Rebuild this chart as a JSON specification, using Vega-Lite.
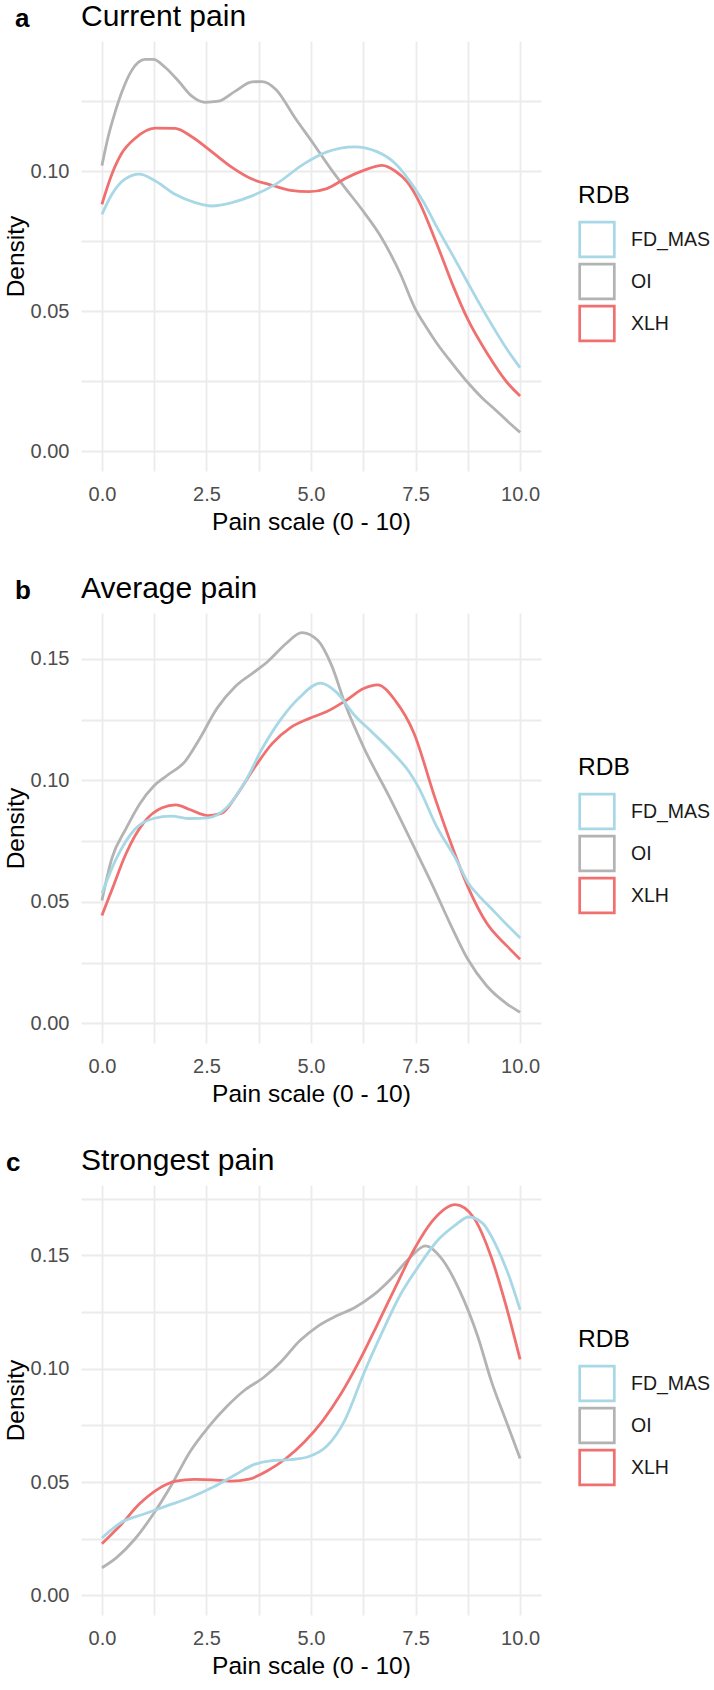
{
"$schema": "https://vega.github.io/schema/vega-lite/v6.json",
"background": "white",
"padding": {"left": 3, "top": 2, "right": 0, "bottom": 0},
"config": {
  "view": {"stroke": null},
  "font": "Liberation Sans",
  "axis": {"domain": false, "ticks": false, "gridColor": "#EBEBEB", "gridWidth": 1.8, "labelColor": "#4D4D4D", "labelFontSize": 20, "titleFontSize": 24.5, "titleFontWeight": "normal", "titleColor": "#000000", "labelOverlap": false, "labelFlush": false, "labelBound": false},
  "axisX": {"labelPadding": 13, "titlePadding": 6},
  "axisY": {"labelPadding": 12, "titlePadding": 2},
  "title": {"fontSize": 30, "fontWeight": "normal", "anchor": "start", "frame": "group", "offset": 9, "color": "#000000"},
  "legend": {"titleFontSize": 24.5, "titleFontWeight": "normal", "titleColor": "#000000", "labelFontSize": 19.5, "labelColor": "#1A1A1A", "symbolType": "square", "symbolSize": 1200, "symbolStrokeWidth": 2.7, "symbolFillColor": "transparent", "labelOffset": 15, "rowPadding": -12, "titlePadding": 12}
},
"resolve": {"scale": {"color": "independent"}, "legend": {"color": "independent"}},
"spacing": 40,
"data": {"values": [
{"p":"a","RDB":"OI","x":0,"y":0.102},{"p":"a","RDB":"OI","x":0.15,"y":0.1123},{"p":"a","RDB":"OI","x":0.31,"y":0.1208},{"p":"a","RDB":"OI","x":0.47,"y":0.128},{"p":"a","RDB":"OI","x":0.71,"y":0.1359},{"p":"a","RDB":"OI","x":1.03,"y":0.1399},{"p":"a","RDB":"OI","x":1.23,"y":0.1399},{"p":"a","RDB":"OI","x":1.51,"y":0.1371},{"p":"a","RDB":"OI","x":1.83,"y":0.1322},{"p":"a","RDB":"OI","x":2.15,"y":0.1268},{"p":"a","RDB":"OI","x":2.47,"y":0.1246},{"p":"a","RDB":"OI","x":2.79,"y":0.125},{"p":"a","RDB":"OI","x":3.19,"y":0.1286},{"p":"a","RDB":"OI","x":3.59,"y":0.1319},{"p":"a","RDB":"OI","x":3.83,"y":0.132},{"p":"a","RDB":"OI","x":4.16,"y":0.1292},{"p":"a","RDB":"OI","x":4.62,"y":0.119},{"p":"a","RDB":"OI","x":5.05,"y":0.11},{"p":"a","RDB":"OI","x":5.49,"y":0.1005},{"p":"a","RDB":"OI","x":5.82,"y":0.094},{"p":"a","RDB":"OI","x":6.26,"y":0.0855},{"p":"a","RDB":"OI","x":6.64,"y":0.0774},{"p":"a","RDB":"OI","x":7.13,"y":0.0636},{"p":"a","RDB":"OI","x":7.5,"y":0.0507},{"p":"a","RDB":"OI","x":7.75,"y":0.0445},{"p":"a","RDB":"OI","x":8.0,"y":0.0388},{"p":"a","RDB":"OI","x":8.4,"y":0.031},{"p":"a","RDB":"OI","x":8.75,"y":0.0246},{"p":"a","RDB":"OI","x":9.1,"y":0.019},{"p":"a","RDB":"OI","x":9.4,"y":0.0150},{"p":"a","RDB":"OI","x":9.7,"y":0.0108},{"p":"a","RDB":"OI","x":10,"y":0.0068},
{"p":"a","RDB":"XLH","x":0,"y":0.0882},{"p":"a","RDB":"XLH","x":0.24,"y":0.099},{"p":"a","RDB":"XLH","x":0.47,"y":0.1063},{"p":"a","RDB":"XLH","x":0.79,"y":0.1117},{"p":"a","RDB":"XLH","x":1.27,"y":0.1154},{"p":"a","RDB":"XLH","x":1.75,"y":0.1153},{"p":"a","RDB":"XLH","x":2.15,"y":0.1123},{"p":"a","RDB":"XLH","x":2.63,"y":0.1069},{"p":"a","RDB":"XLH","x":3.11,"y":0.1014},{"p":"a","RDB":"XLH","x":3.59,"y":0.0972},{"p":"a","RDB":"XLH","x":4.07,"y":0.0950},{"p":"a","RDB":"XLH","x":4.51,"y":0.0932},{"p":"a","RDB":"XLH","x":4.95,"y":0.0927},{"p":"a","RDB":"XLH","x":5.38,"y":0.0938},{"p":"a","RDB":"XLH","x":5.82,"y":0.0974},{"p":"a","RDB":"XLH","x":6.26,"y":0.1003},{"p":"a","RDB":"XLH","x":6.7,"y":0.1021},{"p":"a","RDB":"XLH","x":7.02,"y":0.1},{"p":"a","RDB":"XLH","x":7.3,"y":0.0962},{"p":"a","RDB":"XLH","x":7.56,"y":0.0899},{"p":"a","RDB":"XLH","x":8.0,"y":0.0744},{"p":"a","RDB":"XLH","x":8.4,"y":0.059},{"p":"a","RDB":"XLH","x":8.75,"y":0.0471},{"p":"a","RDB":"XLH","x":9.2,"y":0.0353},{"p":"a","RDB":"XLH","x":9.69,"y":0.0246},{"p":"a","RDB":"XLH","x":10,"y":0.0198},
{"p":"a","RDB":"FD_MAS","x":0,"y":0.0846},{"p":"a","RDB":"FD_MAS","x":0.24,"y":0.0918},{"p":"a","RDB":"FD_MAS","x":0.55,"y":0.0972},{"p":"a","RDB":"FD_MAS","x":0.9,"y":0.099},{"p":"a","RDB":"FD_MAS","x":1.27,"y":0.0966},{"p":"a","RDB":"FD_MAS","x":1.75,"y":0.0918},{"p":"a","RDB":"FD_MAS","x":2.23,"y":0.0888},{"p":"a","RDB":"FD_MAS","x":2.63,"y":0.0876},{"p":"a","RDB":"FD_MAS","x":3.11,"y":0.0888},{"p":"a","RDB":"FD_MAS","x":3.59,"y":0.0912},{"p":"a","RDB":"FD_MAS","x":4.16,"y":0.0954},{"p":"a","RDB":"FD_MAS","x":4.84,"y":0.1027},{"p":"a","RDB":"FD_MAS","x":5.38,"y":0.1069},{"p":"a","RDB":"FD_MAS","x":6.04,"y":0.1087},{"p":"a","RDB":"FD_MAS","x":6.59,"y":0.1069},{"p":"a","RDB":"FD_MAS","x":7.02,"y":0.1027},{"p":"a","RDB":"FD_MAS","x":7.46,"y":0.0944},{"p":"a","RDB":"FD_MAS","x":7.68,"y":0.0893},{"p":"a","RDB":"FD_MAS","x":8.0,"y":0.0803},{"p":"a","RDB":"FD_MAS","x":8.4,"y":0.0697},{"p":"a","RDB":"FD_MAS","x":8.75,"y":0.0602},{"p":"a","RDB":"FD_MAS","x":9.2,"y":0.0483},{"p":"a","RDB":"FD_MAS","x":9.69,"y":0.0364},{"p":"a","RDB":"FD_MAS","x":10,"y":0.0299},
{"p":"b","RDB":"OI","x":0,"y":0.0506},{"p":"b","RDB":"OI","x":0.24,"y":0.068},{"p":"b","RDB":"OI","x":0.57,"y":0.0799},{"p":"b","RDB":"OI","x":0.9,"y":0.0902},{"p":"b","RDB":"OI","x":1.23,"y":0.0975},{"p":"b","RDB":"OI","x":1.55,"y":0.1019},{"p":"b","RDB":"OI","x":1.99,"y":0.1078},{"p":"b","RDB":"OI","x":2.32,"y":0.1166},{"p":"b","RDB":"OI","x":2.76,"y":0.1298},{"p":"b","RDB":"OI","x":3.19,"y":0.1386},{"p":"b","RDB":"OI","x":3.63,"y":0.1444},{"p":"b","RDB":"OI","x":3.96,"y":0.1488},{"p":"b","RDB":"OI","x":4.4,"y":0.1562},{"p":"b","RDB":"OI","x":4.78,"y":0.1608},{"p":"b","RDB":"OI","x":5.16,"y":0.1576},{"p":"b","RDB":"OI","x":5.49,"y":0.1474},{"p":"b","RDB":"OI","x":5.82,"y":0.1312},{"p":"b","RDB":"OI","x":6.26,"y":0.1136},{"p":"b","RDB":"OI","x":6.88,"y":0.093},{"p":"b","RDB":"OI","x":7.5,"y":0.0713},{"p":"b","RDB":"OI","x":7.92,"y":0.0563},{"p":"b","RDB":"OI","x":8.32,"y":0.0413},{"p":"b","RDB":"OI","x":8.75,"y":0.0264},{"p":"b","RDB":"OI","x":9.2,"y":0.0155},{"p":"b","RDB":"OI","x":9.69,"y":0.008},{"p":"b","RDB":"OI","x":10,"y":0.0046},
{"p":"b","RDB":"XLH","x":0,"y":0.0444},{"p":"b","RDB":"XLH","x":0.24,"y":0.055},{"p":"b","RDB":"XLH","x":0.57,"y":0.0696},{"p":"b","RDB":"XLH","x":1.01,"y":0.0828},{"p":"b","RDB":"XLH","x":1.44,"y":0.0887},{"p":"b","RDB":"XLH","x":1.77,"y":0.0899},{"p":"b","RDB":"XLH","x":2.1,"y":0.088},{"p":"b","RDB":"XLH","x":2.54,"y":0.0855},{"p":"b","RDB":"XLH","x":2.87,"y":0.0865},{"p":"b","RDB":"XLH","x":3.19,"y":0.0931},{"p":"b","RDB":"XLH","x":3.63,"y":0.1048},{"p":"b","RDB":"XLH","x":4.07,"y":0.1151},{"p":"b","RDB":"XLH","x":4.51,"y":0.1217},{"p":"b","RDB":"XLH","x":4.95,"y":0.1254},{"p":"b","RDB":"XLH","x":5.38,"y":0.1283},{"p":"b","RDB":"XLH","x":5.82,"y":0.1327},{"p":"b","RDB":"XLH","x":6.26,"y":0.1378},{"p":"b","RDB":"XLH","x":6.59,"y":0.1393},{"p":"b","RDB":"XLH","x":7.02,"y":0.1327},{"p":"b","RDB":"XLH","x":7.46,"y":0.1195},{"p":"b","RDB":"XLH","x":7.96,"y":0.093},{"p":"b","RDB":"XLH","x":8.32,"y":0.0754},{"p":"b","RDB":"XLH","x":8.75,"y":0.0563},{"p":"b","RDB":"XLH","x":9.2,"y":0.0413},{"p":"b","RDB":"XLH","x":9.69,"y":0.0318},{"p":"b","RDB":"XLH","x":10,"y":0.0264},
{"p":"b","RDB":"FD_MAS","x":0,"y":0.0535},{"p":"b","RDB":"FD_MAS","x":0.35,"y":0.068},{"p":"b","RDB":"FD_MAS","x":0.79,"y":0.0799},{"p":"b","RDB":"FD_MAS","x":1.23,"y":0.0843},{"p":"b","RDB":"FD_MAS","x":1.66,"y":0.0853},{"p":"b","RDB":"FD_MAS","x":2.1,"y":0.0843},{"p":"b","RDB":"FD_MAS","x":2.54,"y":0.0846},{"p":"b","RDB":"FD_MAS","x":2.98,"y":0.0887},{"p":"b","RDB":"FD_MAS","x":3.41,"y":0.099},{"p":"b","RDB":"FD_MAS","x":3.85,"y":0.1136},{"p":"b","RDB":"FD_MAS","x":4.29,"y":0.1254},{"p":"b","RDB":"FD_MAS","x":4.73,"y":0.1342},{"p":"b","RDB":"FD_MAS","x":5.22,"y":0.14},{"p":"b","RDB":"FD_MAS","x":5.6,"y":0.1364},{"p":"b","RDB":"FD_MAS","x":6.04,"y":0.1268},{"p":"b","RDB":"FD_MAS","x":6.48,"y":0.1195},{"p":"b","RDB":"FD_MAS","x":6.91,"y":0.1122},{"p":"b","RDB":"FD_MAS","x":7.35,"y":0.1034},{"p":"b","RDB":"FD_MAS","x":7.56,"y":0.0975},{"p":"b","RDB":"FD_MAS","x":8.0,"y":0.0812},{"p":"b","RDB":"FD_MAS","x":8.5,"y":0.0665},{"p":"b","RDB":"FD_MAS","x":8.75,"y":0.058},{"p":"b","RDB":"FD_MAS","x":9.0,"y":0.0528},{"p":"b","RDB":"FD_MAS","x":9.3,"y":0.0475},{"p":"b","RDB":"FD_MAS","x":9.69,"y":0.0405},{"p":"b","RDB":"FD_MAS","x":10,"y":0.0352},
{"p":"c","RDB":"OI","x":0,"y":0.0122},{"p":"c","RDB":"OI","x":0.35,"y":0.0167},{"p":"c","RDB":"OI","x":0.79,"y":0.0249},{"p":"c","RDB":"OI","x":1.23,"y":0.0359},{"p":"c","RDB":"OI","x":1.66,"y":0.0486},{"p":"c","RDB":"OI","x":2.1,"y":0.0632},{"p":"c","RDB":"OI","x":2.54,"y":0.0741},{"p":"c","RDB":"OI","x":2.98,"y":0.0832},{"p":"c","RDB":"OI","x":3.41,"y":0.0905},{"p":"c","RDB":"OI","x":3.85,"y":0.0959},{"p":"c","RDB":"OI","x":4.29,"y":0.1032},{"p":"c","RDB":"OI","x":4.73,"y":0.1123},{"p":"c","RDB":"OI","x":5.16,"y":0.1187},{"p":"c","RDB":"OI","x":5.6,"y":0.1232},{"p":"c","RDB":"OI","x":6.04,"y":0.1269},{"p":"c","RDB":"OI","x":6.48,"y":0.1323},{"p":"c","RDB":"OI","x":6.91,"y":0.1396},{"p":"c","RDB":"OI","x":7.35,"y":0.1487},{"p":"c","RDB":"OI","x":7.74,"y":0.1542},{"p":"c","RDB":"OI","x":8.12,"y":0.1487},{"p":"c","RDB":"OI","x":8.56,"y":0.1342},{"p":"c","RDB":"OI","x":8.99,"y":0.1141},{"p":"c","RDB":"OI","x":9.32,"y":0.0941},{"p":"c","RDB":"OI","x":9.65,"y":0.0777},{"p":"c","RDB":"OI","x":10,"y":0.0604},
{"p":"c","RDB":"XLH","x":0,"y":0.0228},{"p":"c","RDB":"XLH","x":0.46,"y":0.0313},{"p":"c","RDB":"XLH","x":0.9,"y":0.0404},{"p":"c","RDB":"XLH","x":1.33,"y":0.0468},{"p":"c","RDB":"XLH","x":1.77,"y":0.0504},{"p":"c","RDB":"XLH","x":2.21,"y":0.0512},{"p":"c","RDB":"XLH","x":2.65,"y":0.051},{"p":"c","RDB":"XLH","x":3.09,"y":0.0504},{"p":"c","RDB":"XLH","x":3.52,"y":0.0513},{"p":"c","RDB":"XLH","x":3.96,"y":0.055},{"p":"c","RDB":"XLH","x":4.4,"y":0.0604},{"p":"c","RDB":"XLH","x":4.84,"y":0.0677},{"p":"c","RDB":"XLH","x":5.27,"y":0.0768},{"p":"c","RDB":"XLH","x":5.71,"y":0.0887},{"p":"c","RDB":"XLH","x":6.15,"y":0.1032},{"p":"c","RDB":"XLH","x":6.59,"y":0.1196},{"p":"c","RDB":"XLH","x":7.02,"y":0.136},{"p":"c","RDB":"XLH","x":7.46,"y":0.1524},{"p":"c","RDB":"XLH","x":7.9,"y":0.1651},{"p":"c","RDB":"XLH","x":8.45,"y":0.1724},{"p":"c","RDB":"XLH","x":8.88,"y":0.1669},{"p":"c","RDB":"XLH","x":9.32,"y":0.1487},{"p":"c","RDB":"XLH","x":9.65,"y":0.1287},{"p":"c","RDB":"XLH","x":10,"y":0.1041},
{"p":"c","RDB":"FD_MAS","x":0,"y":0.0253},{"p":"c","RDB":"FD_MAS","x":0.46,"y":0.0322},{"p":"c","RDB":"FD_MAS","x":1.01,"y":0.0359},{"p":"c","RDB":"FD_MAS","x":1.55,"y":0.0395},{"p":"c","RDB":"FD_MAS","x":2.1,"y":0.0431},{"p":"c","RDB":"FD_MAS","x":2.65,"y":0.0477},{"p":"c","RDB":"FD_MAS","x":3.19,"y":0.0532},{"p":"c","RDB":"FD_MAS","x":3.63,"y":0.0577},{"p":"c","RDB":"FD_MAS","x":4.07,"y":0.0595},{"p":"c","RDB":"FD_MAS","x":4.51,"y":0.0599},{"p":"c","RDB":"FD_MAS","x":4.95,"y":0.0613},{"p":"c","RDB":"FD_MAS","x":5.38,"y":0.0659},{"p":"c","RDB":"FD_MAS","x":5.82,"y":0.0777},{"p":"c","RDB":"FD_MAS","x":6.26,"y":0.0978},{"p":"c","RDB":"FD_MAS","x":6.7,"y":0.116},{"p":"c","RDB":"FD_MAS","x":7.13,"y":0.1324},{"p":"c","RDB":"FD_MAS","x":7.57,"y":0.1451},{"p":"c","RDB":"FD_MAS","x":8.0,"y":0.156},{"p":"c","RDB":"FD_MAS","x":8.45,"y":0.1633},{"p":"c","RDB":"FD_MAS","x":8.77,"y":0.1669},{"p":"c","RDB":"FD_MAS","x":9.1,"y":0.1642},{"p":"c","RDB":"FD_MAS","x":9.43,"y":0.1542},{"p":"c","RDB":"FD_MAS","x":9.76,"y":0.1396},{"p":"c","RDB":"FD_MAS","x":10,"y":0.126}
]},
"vconcat": [
 {"title": {"text": "a", "fontSize": 26, "fontWeight": "bold", "anchor": "start", "frame": "bounds", "offset": 0, "dx": 12, "dy": 30},
  "resolve": {"scale": {"color": "independent"}, "legend": {"color": "independent"}},
  "vconcat": [{
   "title": "Current pain", "width": 460, "height": 430,
   "transform": [{"filter": "datum.p === 'a'"}],
   "mark": {"type": "line", "strokeWidth": 2.8, "interpolate": "monotone"},
   "encoding": {
    "x": {"field": "x", "type": "quantitative", "title": "Pain scale (0 - 10)", "scale": {"domain": [-0.5, 10.5], "nice": false, "zero": false}, "axis": {"values": [0,1.25,2.5,3.75,5,6.25,7.5,8.75,10], "labelExpr": "datum.value % 2.5 === 0 ? format(datum.value, '.1f') : ''"}},
    "y": {"field": "y", "type": "quantitative", "title": "Density", "scale": {"domain": [-0.006975, 0.146475], "nice": false, "zero": false}, "axis": {"values": [0,0.025,0.05,0.075,0.1,0.125], "labelExpr": "round(datum.value*1000) % 50 === 0 ? format(datum.value, '.2f') : ''"}},
    "color": {"field": "RDB", "type": "nominal", "scale": {"domain": ["FD_MAS","OI","XLH"], "range": ["#A8D8E6","#B3B3B3","#F07070"]}, "legend": {"orient": "none", "legendX": 497, "legendY": 143, "title": "RDB"}}
   }
  }]
 },
 {"title": {"text": "b", "fontSize": 26, "fontWeight": "bold", "anchor": "start", "frame": "bounds", "offset": 0, "dx": 12, "dy": 30},
  "resolve": {"scale": {"color": "independent"}, "legend": {"color": "independent"}},
  "vconcat": [{
   "title": "Average pain", "width": 460, "height": 430,
   "transform": [{"filter": "datum.p === 'b'"}],
   "mark": {"type": "line", "strokeWidth": 2.8, "interpolate": "monotone"},
   "encoding": {
    "x": {"field": "x", "type": "quantitative", "title": "Pain scale (0 - 10)", "scale": {"domain": [-0.5, 10.5], "nice": false, "zero": false}, "axis": {"values": [0,1.25,2.5,3.75,5,6.25,7.5,8.75,10], "labelExpr": "datum.value % 2.5 === 0 ? format(datum.value, '.1f') : ''"}},
    "y": {"field": "y", "type": "quantitative", "title": "Density", "scale": {"domain": [-0.00804, 0.16884], "nice": false, "zero": false}, "axis": {"values": [0,0.025,0.05,0.075,0.1,0.125,0.15], "labelExpr": "round(datum.value*1000) % 50 === 0 ? format(datum.value, '.2f') : ''"}},
    "color": {"field": "RDB", "type": "nominal", "scale": {"domain": ["FD_MAS","OI","XLH"], "range": ["#A8D8E6","#B3B3B3","#F07070"]}, "legend": {"orient": "none", "legendX": 497, "legendY": 143, "title": "RDB"}}
   }
  }]
 },
 {"title": {"text": "c", "fontSize": 26, "fontWeight": "bold", "anchor": "start", "frame": "bounds", "offset": 0, "dx": 3, "dy": 30},
  "resolve": {"scale": {"color": "independent"}, "legend": {"color": "independent"}},
  "vconcat": [{
   "title": "Strongest pain", "width": 460, "height": 430,
   "transform": [{"filter": "datum.p === 'c'"}],
   "mark": {"type": "line", "strokeWidth": 2.8, "interpolate": "monotone"},
   "encoding": {
    "x": {"field": "x", "type": "quantitative", "title": "Pain scale (0 - 10)", "scale": {"domain": [-0.5, 10.5], "nice": false, "zero": false}, "axis": {"values": [0,1.25,2.5,3.75,5,6.25,7.5,8.75,10], "labelExpr": "datum.value % 2.5 === 0 ? format(datum.value, '.1f') : ''"}},
    "y": {"field": "y", "type": "quantitative", "title": "Density", "scale": {"domain": [-0.00862, 0.18102], "nice": false, "zero": false}, "axis": {"values": [0,0.025,0.05,0.075,0.1,0.125,0.15,0.175], "labelExpr": "round(datum.value*1000) % 50 === 0 ? format(datum.value, '.2f') : ''"}},
    "color": {"field": "RDB", "type": "nominal", "scale": {"domain": ["FD_MAS","OI","XLH"], "range": ["#A8D8E6","#B3B3B3","#F07070"]}, "legend": {"orient": "none", "legendX": 497, "legendY": 143, "title": "RDB"}}
   }
  }]
 }
]
}
